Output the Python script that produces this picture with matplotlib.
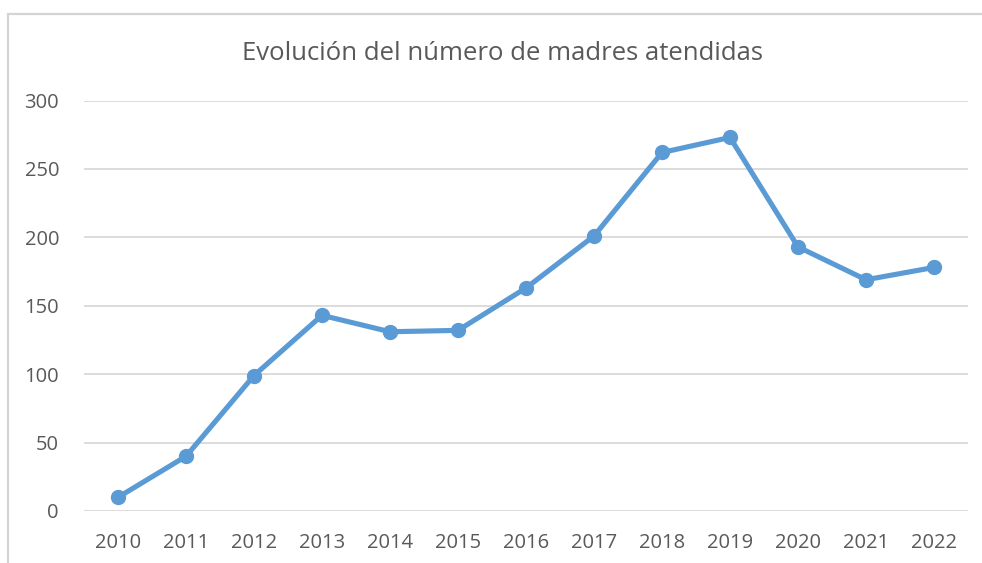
import matplotlib
matplotlib.use("Agg")
import matplotlib.pyplot as plt
from matplotlib.patches import Rectangle

years = ["2010", "2011", "2012", "2013", "2014", "2015", "2016",
         "2017", "2018", "2019", "2020", "2021", "2022"]
madres = [10, 40, 99, 143, 131, 132, 163, 201, 262, 273, 193, 169, 178]
yticks = [0, 50, 100, 150, 200, 250, 300]
title = "Evolución del número de madres atendidas"

W, H = 982, 563
fig = plt.figure(figsize=(W / 100, H / 100), dpi=100)
fig.patch.set_facecolor("white")

# chart frame
fig.patches.append(Rectangle((8 / W, -0.01), 1.0, 1 - 14 / H + 0.01,
                             transform=fig.transFigure, fill=False,
                             edgecolor="#D4D4D4", linewidth=1.6))

ax = fig.add_axes([84 / W, 52 / H, (968 - 84) / W, (511 - 100.5) / H])
x = list(range(len(years)))
ax.plot(x, madres, color="#5B9BD5", linewidth=3.7, marker="o",
        markersize=10, solid_capstyle="round", zorder=3, clip_on=False)

ax.set_xlim(-0.5, len(years) - 0.5)
ax.set_ylim(0, 300)
ax.set_yticks(yticks)
ax.set_yticklabels([str(v) for v in yticks])
ax.set_xticks(x)
ax.set_xticklabels(years)
ax.grid(axis="y", color="#D9D9D9", linewidth=1.3)
ax.set_axisbelow(True)
for s in ax.spines.values():
    s.set_visible(False)
ax.tick_params(length=0, labelsize=14.5, labelcolor="#595959")
ax.tick_params(axis="y", pad=18)
ax.tick_params(axis="x", pad=16)
for lbl in ax.get_xticklabels() + ax.get_yticklabels():
    lbl.set_fontfamily("Open Sans")

fig.text(503 / W, 1 - 53 / H, title, ha="center", va="center",
         fontsize=18.5, color="#595959", fontfamily="Open Sans")

fig.savefig("out.png", dpi=100)
